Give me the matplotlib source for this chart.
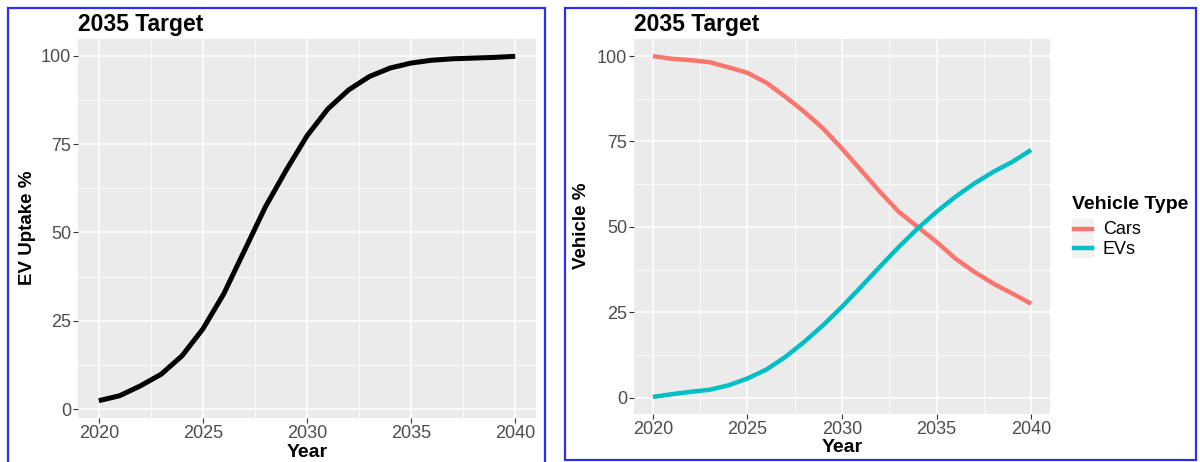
import matplotlib
matplotlib.use("Agg")
import matplotlib.pyplot as plt
from matplotlib.patches import Rectangle
from matplotlib.lines import Line2D

plt.rcParams['font.family'] = ['Liberation Sans', 'DejaVu Sans']

years = list(range(2020, 2041))
ev_uptake = [2.4, 3.8, 6.6, 9.9, 15.1, 22.7, 32.6, 44.9, 57.2, 67.6, 77.3,
             84.9, 90.3, 94.1, 96.5, 97.9, 98.7, 99.1, 99.3, 99.5, 99.8]
cars = [100.0, 99.2, 98.8, 98.2, 96.7, 95.1, 92.2, 88.1, 83.7, 78.8, 72.9,
        66.6, 60.3, 54.4, 50.0, 45.6, 40.7, 36.8, 33.4, 30.5, 27.5]
evs = [0.2, 1.0, 1.7, 2.3, 3.6, 5.6, 8.2, 11.9, 16.3, 21.2, 26.6,
       32.4, 38.3, 44.1, 49.5, 54.4, 58.8, 62.7, 66.1, 69.0, 72.5]
series_names = ["Cars", "EVs"]
series_colors = ["#F8766D", "#00BFC4"]
x_ticks = [2020, 2025, 2030, 2035, 2040]
y_ticks = [0, 25, 50, 75, 100]
title = "2035 Target"

W, H = 1200, 462
fig = plt.figure(figsize=(W / 100, H / 100), dpi=100)
fig.patch.set_facecolor("white")


def rect(x0, y0, x1, y1):
    return [x0 / W, 1 - y1 / H, (x1 - x0) / W, (y1 - y0) / H]


def fx(x):
    return x / W


def fy(y):
    return 1 - y / H


def style(ax, ylim):
    ax.set_facecolor("#EBEBEB")
    for s in ax.spines.values():
        s.set_visible(False)
    ax.set_xlim(2019, 2041)
    ax.set_ylim(*ylim)
    ax.set_xticks(x_ticks)
    ax.set_yticks(y_ticks)
    ax.set_xticks([2022.5, 2027.5, 2032.5, 2037.5], minor=True)
    ax.set_yticks([12.5, 37.5, 62.5, 87.5], minor=True)
    ax.grid(which="major", color="white", linewidth=1.1)
    ax.grid(which="minor", color="white", linewidth=0.55)
    ax.set_axisbelow(True)
    ax.tick_params(which="major", length=3.5, width=0.8, color="#333333",
                   labelcolor="#4D4D4D", labelsize=13, pad=1.5)
    ax.tick_params(which="minor", length=0)


# Left panel
ax1 = fig.add_axes(rect(78, 39, 536, 418))
style(ax1, (-2.5, 104.7))
ax1.plot(years, ev_uptake, color="black", linewidth=3.6, solid_capstyle="butt")

# Right panel
ax2 = fig.add_axes(rect(634, 39, 1050, 414))
style(ax2, (-4.8, 105.0))
for vals, name, col in zip([cars, evs], series_names, series_colors):
    ax2.plot(years, vals, color=col, linewidth=3.2, label=name, solid_capstyle="butt")

# Titles
fig.text(fx(78), fy(31), title, fontsize=16.5, fontweight="bold", va="baseline", ha="left")
fig.text(fx(634), fy(31), title, fontsize=16.5, fontweight="bold", va="baseline", ha="left")

# Axis labels
fig.text(fx(307), fy(457), "Year", fontsize=14, fontweight="bold", va="baseline", ha="center")
fig.text(fx(842), fy(452), "Year", fontsize=14, fontweight="bold", va="baseline", ha="center")
fig.text(fx(28), fy(228), "EV Uptake %", fontsize=13.5, fontweight="bold",
         rotation=90, va="center", ha="center")
fig.text(fx(582), fy(226), "Vehicle %", fontsize=13.5, fontweight="bold",
         rotation=90, va="center", ha="center")

# Legend
fig.text(fx(1072), fy(209), "Vehicle Type", fontsize=14, fontweight="bold",
         va="baseline", ha="left")
fig.patches.append(Rectangle((fx(1072), fy(258)), (1094 - 1072) / W, (258 - 219) / H,
                             transform=fig.transFigure, facecolor="#F2F2F2",
                             edgecolor="none", figure=fig))
for i, (name, col) in enumerate(zip(series_names, series_colors)):
    yc = 229 + i * 19.5
    fig.lines.append(Line2D([fx(1074), fx(1092)], [fy(yc), fy(yc)],
                            transform=fig.transFigure, color=col, linewidth=3.2,
                            figure=fig))
    fig.text(fx(1103), fy(yc + 5), name, fontsize=13, va="baseline", ha="left",
             color="black")

# Blue frames
fig.patches.append(Rectangle((fx(8), fy(470)), (545 - 8) / W, (470 - 8) / H,
                             transform=fig.transFigure, facecolor="none",
                             edgecolor="#2E2EF0", linewidth=1.6, figure=fig))
fig.patches.append(Rectangle((fx(565), fy(460)), (1196 - 565) / W, (460 - 8) / H,
                             transform=fig.transFigure, facecolor="none",
                             edgecolor="#2E2EF0", linewidth=1.6, figure=fig))

fig.savefig("out.png", dpi=100)
